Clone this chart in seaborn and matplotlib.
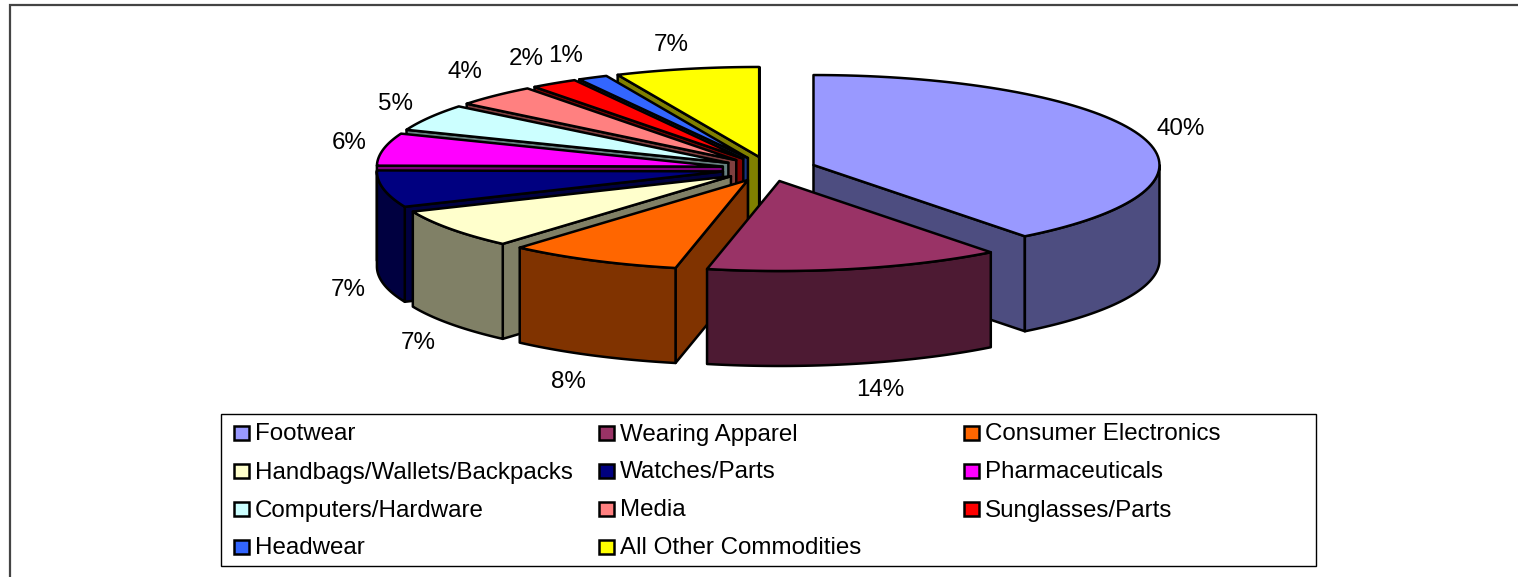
import numpy as np
import matplotlib
matplotlib.use('Agg')
import matplotlib.pyplot as plt
from matplotlib.patches import Rectangle
import seaborn as sns

commodities = ['Footwear', 'Wearing Apparel', 'Consumer Electronics',
               'Handbags/Wallets/Backpacks', 'Watches/Parts', 'Pharmaceuticals',
               'Computers/Hardware', 'Media', 'Sunglasses/Parts',
               'Headwear', 'All Other Commodities']
shares = [39.5, 13.8, 8.1, 7.1, 6.6, 5.8, 4.8, 3.9, 2.2, 1.4, 6.7]
top_colors = ['#9999FF', '#993366', '#FF6600', '#FFFFCC', '#000080', '#FF00FF',
              '#CCFFFF', '#FF8080', '#FF0000', '#3366FF', '#FFFF00']

# nudges for the percent labels, from the rim of each slice (pixels)
label_nudge = [(40, -7), (24, 26), (-24, 27), (-33, 19), (-35, 6), (-34, -6),
               (-34, -14), (-30, -24), (-28, -24), (-27, -22), (-16, -24)]

# pie geometry in figure pixels
CX, CY = 769.0, 169.0
RX, RY = 346.0, 90.0
EX, EY = 47.0, 12.3
DEPTH = 95.0
FONT = ['Liberation Sans', 'DejaVu Sans']

sns.set_style('white')
plt.rcParams['font.family'] = FONT

palette = sns.color_palette(top_colors)
wall_colors = [tuple(c * 0.5 for c in col) for col in palette]

fig = plt.figure(figsize=(15.18, 5.77), dpi=100)
ax = fig.add_axes([0, 0, 1, 1])
ax.set_xlim(0, 1518)
ax.set_ylim(577, 0)
ax.axis('off')

# chart frame, only top and left show in the crop
ax.plot([1518, 10, 10], [5, 5, 577], color='#444444', lw=1.6, solid_joinstyle='miter')

values = np.array(shares) / np.sum(shares) * 360
ends = np.cumsum(values)
starts = ends - values
mids = (starts + ends) / 2


def arc(cx, cy, a, b, n=80):
    t = np.radians(np.linspace(a, b, n))
    return cx + RX * np.sin(t), cy - RY * np.cos(t)


def poly(xs, ys, color):
    ax.fill(xs, ys, facecolor=color, edgecolor='black', lw=1.8, joinstyle='round')


# back slices first so the front ones paint over them
for i in np.argsort(-np.cos(np.radians(mids))):
    a, b = starts[i], ends[i]
    m = np.radians(mids[i])
    x0 = CX + EX * np.sin(m)
    y0 = CY - EY * np.cos(m)

    # cut faces, skip the ones that turn away from the viewer
    for ang, seen in ((a, np.sin(np.radians(a)) < 0), (b, np.sin(np.radians(b)) > 0)):
        if seen:
            xe, ye = arc(x0, y0, ang, ang, 1)
            poly([x0, xe[0], xe[0], x0], [y0, ye[0], ye[0] + DEPTH, y0 + DEPTH], wall_colors[i])

    # outer wall, only the near half of the rim
    lo, hi = max(a, 90), min(b, 270)
    if hi > lo:
        xs, ys = arc(x0, y0, lo, hi)
        poly(np.r_[xs, xs[::-1]], np.r_[ys, ys[::-1] + DEPTH], wall_colors[i])

    # top
    xs, ys = arc(x0, y0, a, b)
    poly(np.r_[x0, xs], np.r_[y0, ys], palette[i])

# percent labels
for i, pct in enumerate(shares):
    m = np.radians(mids[i])
    lx = CX + (RX + EX) * np.sin(m) + label_nudge[i][0]
    ly = CY - (RY + EY) * np.cos(m) + label_nudge[i][1]
    if np.cos(m) < 0:
        ly += DEPTH
    ax.text(lx, ly, f'{pct:.0f}%', ha='center', va='center', fontsize=17.4, color='black')

# legend box, three equal columns
ax.add_patch(Rectangle((220.5, 413.5), 1095.5, 152.5, facecolor='white',
                       edgecolor='black', lw=1.0, zorder=3))
for i, name in enumerate(commodities):
    col, row = i % 3, i // 3
    x = 234 + col * 365
    y = 433 + row * 38
    ax.add_patch(Rectangle((x, y - 7.5), 14.5, 14.5, facecolor=palette[i],
                           edgecolor='black', lw=1.8, zorder=4))
    ax.text(x + 21, y + 7.5, name, ha='left', va='baseline', fontsize=17.4,
            color='black', zorder=4)

fig.savefig('out.png', dpi=100, facecolor='white')
